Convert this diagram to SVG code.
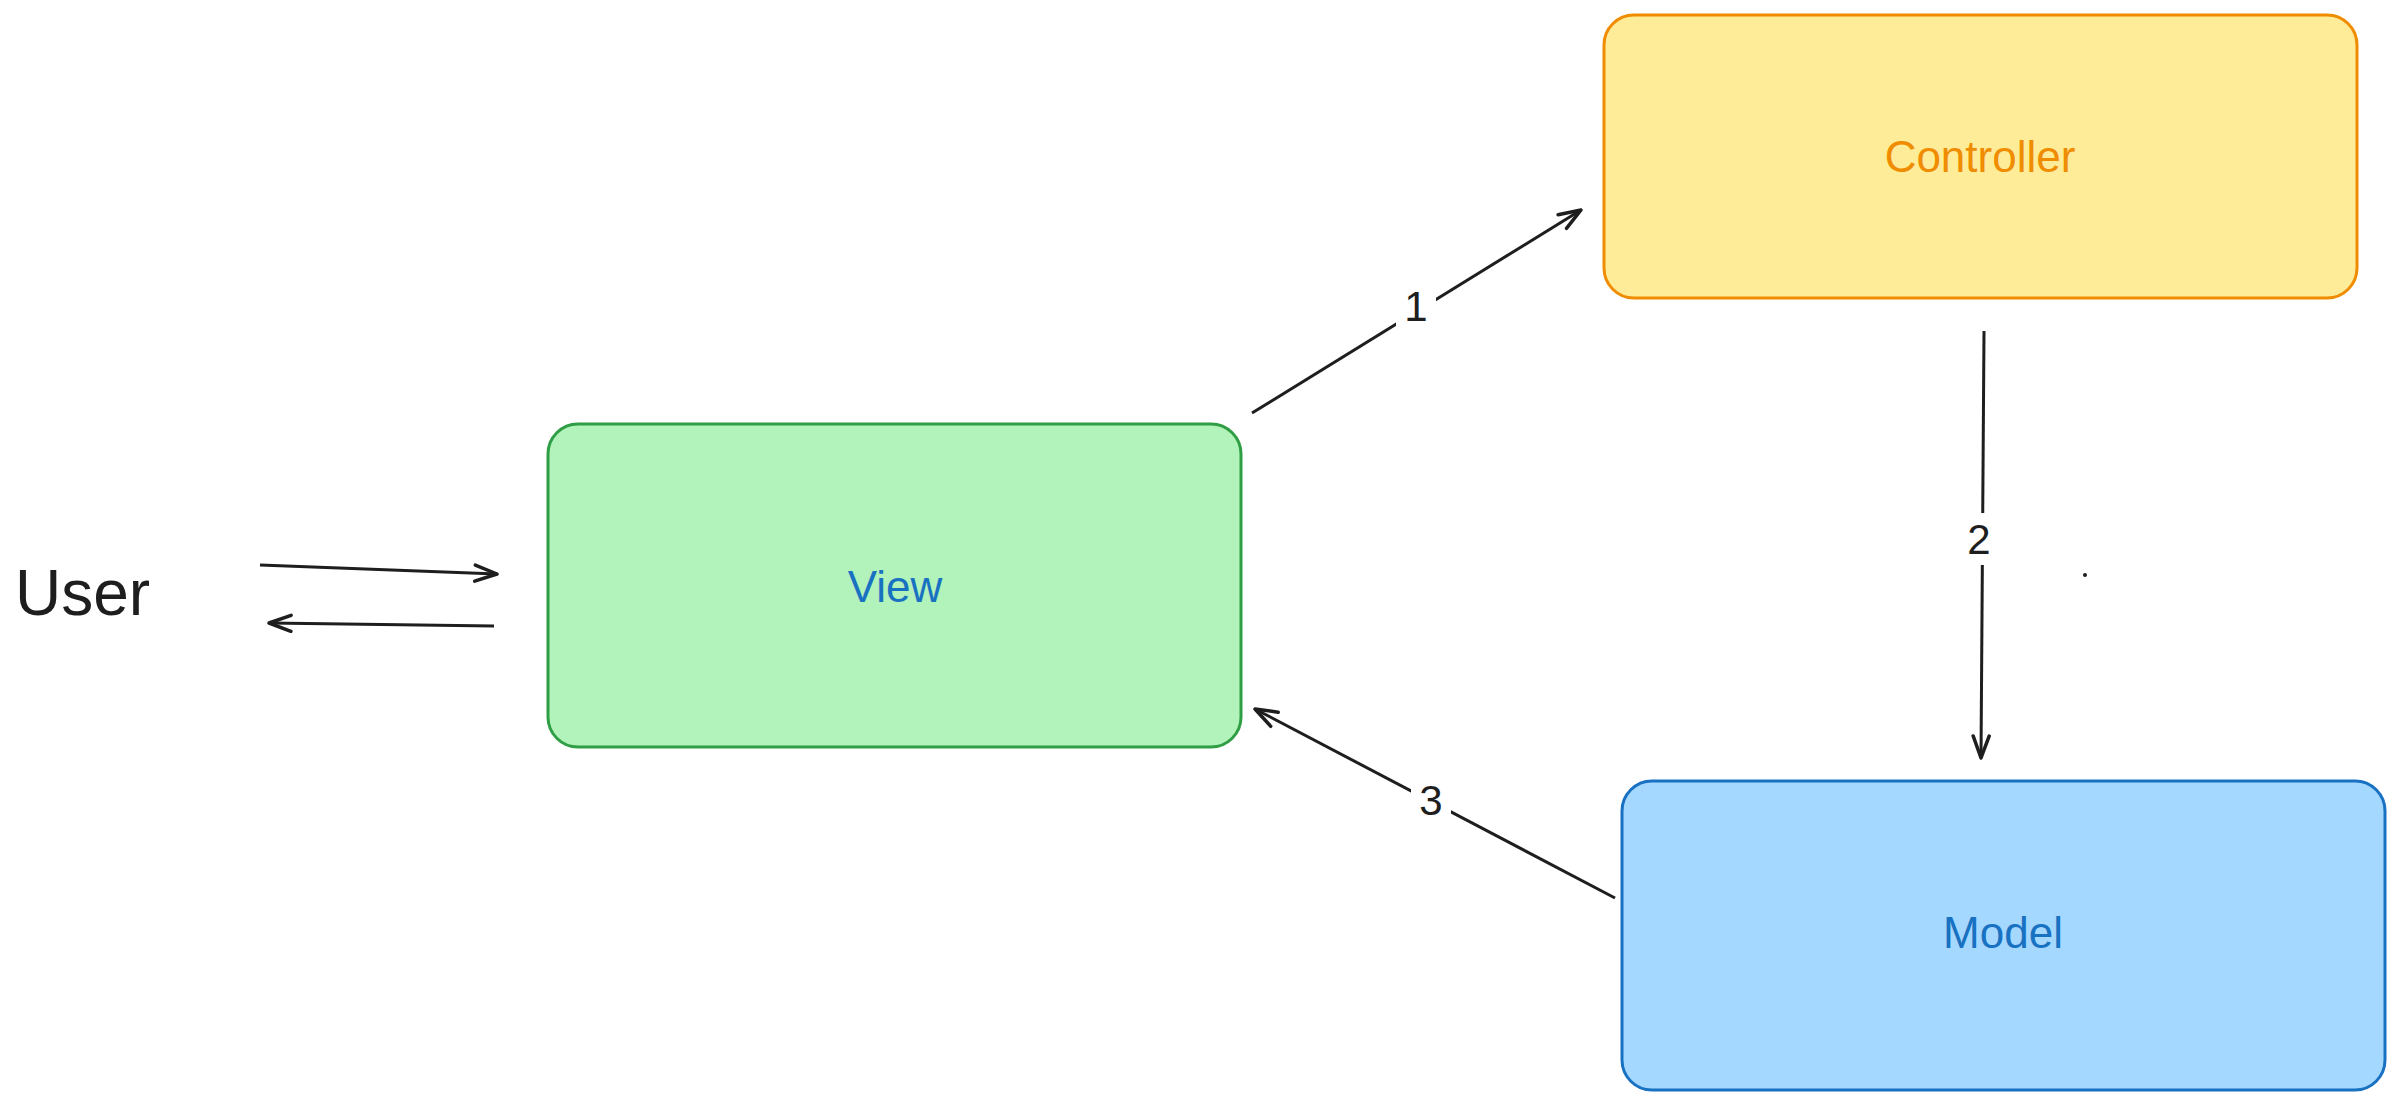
<svg xmlns="http://www.w3.org/2000/svg" width="2400" height="1104" viewBox="0 0 2400 1104">
<defs>
<style>
.lbl{font-family:"Liberation Sans",sans-serif;font-size:44px;text-anchor:middle;dominant-baseline:central}
.num{font-family:"Liberation Sans",sans-serif;font-size:42px;fill:#1e1e1e;text-anchor:middle;dominant-baseline:central}
.edge{stroke:#1e1e1e;stroke-width:3;fill:none;marker-end:url(#ah)}
</style>
<marker id="ah" viewBox="0 0 26 26" refX="24" refY="13" markerWidth="26" markerHeight="26" orient="auto" markerUnits="userSpaceOnUse">
<path d="M2,5 L24,13 L2,21" fill="none" stroke="#1e1e1e" stroke-width="3.5" stroke-linecap="round" stroke-linejoin="round"/>
</marker>
</defs>
<rect width="2400" height="1104" fill="#fff"/>
<g id="controller">
<rect x="1604" y="15" width="753" height="283" rx="30" fill="#ffec99" stroke="#f08c00" stroke-width="3"/>
<text class="lbl" x="1980" y="156" fill="#f08c00">Controller</text>
</g>
<g id="view">
<rect x="548" y="424" width="693" height="323" rx="30" fill="#b2f2bb" stroke="#2f9e44" stroke-width="3"/>
<text class="lbl" x="895" y="586" fill="#1971c2">View</text>
</g>
<g id="model">
<rect x="1622" y="781" width="763" height="309" rx="30" fill="#a5d8ff" stroke="#1971c2" stroke-width="3"/>
<text class="lbl" x="2003" y="932" fill="#1971c2">Model</text>
</g>
<g id="user">
<text x="15" y="615" font-family="Liberation Sans,sans-serif" font-size="64" fill="#1e1e1e">User</text>
</g>
<g id="connectors">
<path class="edge" d="M1252,413 L1581,210"/>
<path class="edge" d="M1984,331 L1981,758"/>
<path class="edge" d="M1615,898 L1255,709"/>
<path class="edge" d="M260,565 L497,574"/>
<path class="edge" d="M494,626 L269,623"/>
<rect x="1396" y="284" width="40" height="44" fill="#fff"/>
<text class="num" x="1416" y="306">1</text>
<rect x="1962" y="513" width="34" height="52" fill="#fff"/>
<text class="num" x="1979" y="539">2</text>
<rect x="1411" y="776" width="40" height="48" fill="#fff"/>
<text class="num" x="1431" y="800">3</text>
<circle cx="2085" cy="575" r="2" fill="#1e1e1e"/>
</g>
</svg>
